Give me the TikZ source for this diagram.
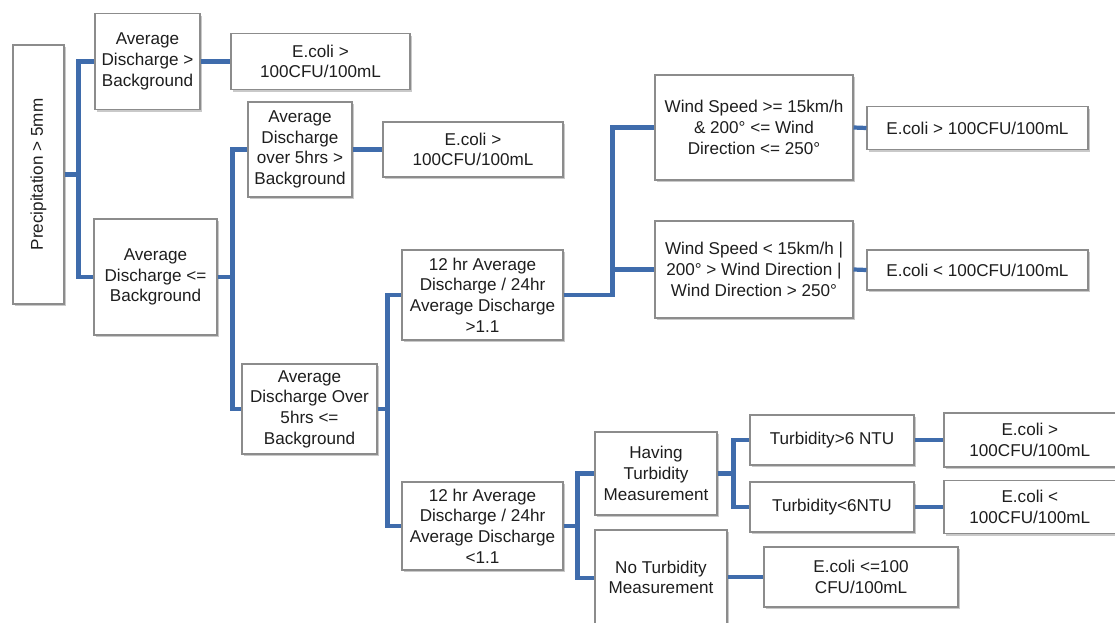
\documentclass[tikz,border=0pt]{standalone}
\usepackage{fontspec}
\setmainfont{Liberation Sans}
\usetikzlibrary{shadows,calc}
\definecolor{conn}{RGB}{63,108,172}
\definecolor{boxline}{RGB}{140,140,140}
\definecolor{txt}{RGB}{30,30,30}
\tikzset{
  box/.style={draw=boxline, line width=0.9pt, fill=white, align=center, inner sep=0pt,
    text=txt, font=\fontsize{14.6}{17.6}\selectfont,
    drop shadow={shadow xshift=0.05cm, shadow yshift=-0.07cm, fill=black!35, opacity=0.6}},
  sz/.style 2 args={minimum width=#1*0.03cm, minimum height=#2*0.03cm},
  link/.style={draw=conn, line width=3.6pt}
}
\begin{document}
\begin{tikzpicture}[x=0.03cm, y=-0.03cm]
\useasboundingbox (0,0) rectangle (1115,623);
\fill[white] (0,0) rectangle (1115,623);
\clip (0,0) rectangle (1115,623);

% nodes
\node[box, sz={51}{259}] (prec) at (38.5,174.5) {\rotatebox{90}{Precipitation > 5mm}};
\node[box, sz={105}{96}] (adg) at (147.5,61.5) {Average\\Discharge >\\Background};
\node[box, sz={179}{56}] (e1) at (320.5,61.5) {E.coli >\\100CFU/100mL};
\node[box, sz={123}{116}] (adl) at (155.5,277) {Average\\Discharge <=\\Background};
\node[box, sz={104}{95}] (a5g) at (300,149.5) {Average\\Discharge\\over 5hrs >\\Background};
\node[box, sz={180}{55}] (e2) at (473,149.5) {E.coli >\\100CFU/100mL};
\node[box, sz={135}{90}] (a5l) at (309.5,409) {Average\\Discharge Over\\5hrs <=\\Background};
\node[box, sz={161}{90}] (r1) at (482.5,295) {12 hr Average\\Discharge / 24hr\\Average Discharge\\>1.1};
\node[box, sz={161}{88}] (r2) at (482.5,526) {12 hr Average\\Discharge / 24hr\\Average Discharge\\<1.1};
\node[box, sz={198}{105}] (w1) at (754,127.5) {Wind Speed >= 15km/h\\\& 200° <= Wind\\Direction <= 250°};
\node[box, sz={198}{97}] (w2) at (754,269.5) {Wind Speed < 15km/h |\\200° > Wind Direction |\\Wind Direction > 250°};
\node[box, sz={221}{43}] (e3) at (977.5,128) {E.coli > 100CFU/100mL};
\node[box, sz={221}{40}] (e4) at (977.5,270) {E.coli < 100CFU/100mL};
\node[box, sz={122}{83}] (ht) at (656,473.5) {Having\\Turbidity\\Measurement};
\node[box, sz={132}{110}] (nt) at (661,585) {No Turbidity\\Measurement\\[-4.5pt]\mbox{}};
\node[box, sz={164}{50}] (t6g) at (832,440) {Turbidity>6 NTU};
\node[box, sz={164}{50}] (t6l) at (832,507) {Turbidity<6NTU};
\node[box, sz={181}{54}] (e5) at (1034.5,440) {\hspace*{-8pt}E.coli >\\\hspace*{-8pt}100CFU/100mL};
\node[box, sz={181}{53}] (e6) at (1034.5,507) {\hspace*{-8pt}E.coli <\\\hspace*{-8pt}100CFU/100mL};
\node[box, sz={194}{60}] (e7) at (861,577) {E.coli <=100\\CFU/100mL};

% connectors
\draw[link] (prec.east) -- ++(14,0) |- (adg.west);
\draw[link] (prec.east) -- ++(14,0) |- (adl.west);
\draw[link] (adg.east) -- (e1.west);
\draw[link] (adl.east) -- ++(15,0) |- (a5g.west);
\draw[link] (adl.east) -- ++(15,0) |- (a5l.west);
\draw[link] (a5g.east) -- (e2.west);
\draw[link] (a5l.east) -- ++(10,0) |- (r1.west);
\draw[link] (a5l.east) -- ++(10,0) |- (r2.west);
\draw[link] (r1.east) -- ++(49,0) |- (w1.west);
\draw[link] (r1.east) -- ++(49,0) |- (w2.west);
\draw[link] (w1.east) -- (e3.west);
\draw[link] (w2.east) -- (e4.west);
\draw[link] (r2.east) -- ++(14,0) |- (ht.west);
\draw[link] (r2.east) -- ++(14,0) |- ([yshift=0.21cm]nt.west);
\draw[link] (ht.east) -- ++(16,0) |- (t6g.west);
\draw[link] (ht.east) -- ++(16,0) |- (t6l.west);
\draw[link] (t6g.east) -- (e5.west);
\draw[link] (t6l.east) -- (e6.west);
\draw[link] (e7.west -| nt.east) -- (e7.west);
\end{tikzpicture}
\end{document}
